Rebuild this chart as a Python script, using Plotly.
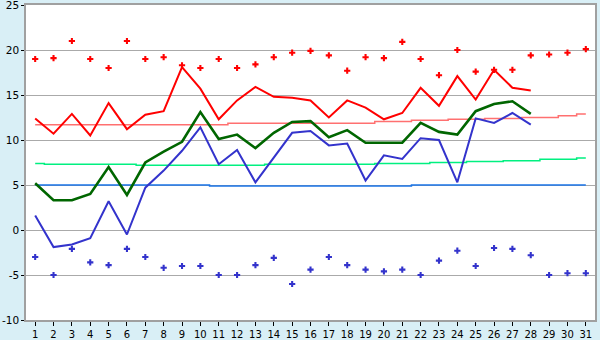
import plotly.graph_objects as go

days = list(range(1, 32))
days28 = list(range(1, 29))

rec_max = [19, 19.1, 21, 19, 18, 21, 19, 19.2, 18.3, 18, 19, 18, 18.4, 19.2, 19.7, 19.9,
           19.4, 17.7, 19.2, 19.1, 20.9, 19, 17.2, 20, 17.6, 17.8, 17.8, 19.4, 19.5, 19.7, 20.1]
rec_min = [-3, -5, -2.1, -3.6, -3.9, -2.1, -3, -4.2, -4, -4, -5, -5, -3.9, -3.1, -6, -4.4,
           -3, -3.9, -4.4, -4.6, -4.4, -5, -3.4, -2.3, -4, -2, -2.1, -2.8, -5, -4.8, -4.8]

t_max = [12.4, 10.7, 12.9, 10.5, 14.1, 11.2, 12.8, 13.2, 18.1, 15.7, 12.3, 14.4, 15.9, 14.8,
         14.7, 14.4, 12.5, 14.4, 13.6, 12.3, 13.0, 15.8, 13.8, 17.1, 14.5, 17.8, 15.8, 15.5]
t_avg = [5.2, 3.3, 3.3, 4.0, 7.0, 3.9, 7.5, 8.7, 9.8, 13.1, 10.1, 10.6, 9.1, 10.8, 12.0, 12.1,
         10.3, 11.1, 9.7, 9.7, 9.7, 11.9, 10.9, 10.6, 13.2, 14.0, 14.3, 12.9]
t_min = [1.6, -1.9, -1.6, -0.9, 3.2, -0.5, 4.7, 6.6, 8.8, 11.4, 7.3, 8.9, 5.3, 8.1, 10.8, 11.0,
         9.4, 9.6, 5.5, 8.3, 7.9, 10.2, 10.0, 5.3, 12.4, 11.9, 13.0, 11.7]

norm_max = [11.7] * 11 + [11.85] * 8 + [12.05] * 2 + [12.2] * 2 + [12.3] * 2 + [12.4] * 2 + [12.5] * 2 + [12.7, 12.9]
norm_avg = [7.4] + [7.3] * 5 + [7.2] * 7 + [7.3] * 6 + [7.4] * 3 + [7.5] * 2 + [7.6] * 2 + [7.7] * 2 + [7.85] * 2 + [8.0]
norm_min = [5.0] * 10 + [4.9] * 11 + [5.0] * 10

y_ticks = [-10, -5, 0, 5, 10, 15, 20, 25]
y_labels = ["-10", "-5", "0", "5", "10", "15", "20", "25"]

fig = go.Figure()

fig.add_trace(go.Scatter(x=days, y=norm_max, mode="lines", line=dict(color="#ff7070", width=1.5, shape="hvh")))
fig.add_trace(go.Scatter(x=days, y=norm_avg, mode="lines", line=dict(color="#00f080", width=1.5, shape="hvh")))
fig.add_trace(go.Scatter(x=days, y=norm_min, mode="lines", line=dict(color="#1a74e8", width=1.5, shape="hvh")))

fig.add_trace(go.Scatter(x=days28, y=t_max, mode="lines", line=dict(color="#ff0000", width=2)))
fig.add_trace(go.Scatter(x=days28, y=t_avg, mode="lines", line=dict(color="#006600", width=2.6)))
fig.add_trace(go.Scatter(x=days28, y=t_min, mode="lines", line=dict(color="#3333cc", width=2)))

fig.add_trace(go.Scatter(x=days, y=rec_max, mode="markers",
                         marker=dict(symbol="cross", size=5.2, color="#ff0000", line=dict(width=0))))
fig.add_trace(go.Scatter(x=days, y=rec_min, mode="markers",
                         marker=dict(symbol="cross", size=5.2, color="#3333cc", line=dict(width=0))))

fig.update_layout(
    width=600, height=340,
    margin=dict(l=26, r=5, t=5, b=20, autoexpand=False),
    paper_bgcolor="#d9eff6",
    plot_bgcolor="#ffffff",
    showlegend=False,
    font=dict(family="DejaVu Sans", size=10, color="#000000"),
)
fig.update_xaxes(
    range=[0.5, 31.5], tickmode="array", tickvals=days, ticktext=[str(d) for d in days],
    showgrid=False, zeroline=False, ticks="outside", ticklen=4, tickcolor="#000000",
    showline=True, linecolor="#a0a0a0", linewidth=1.5, mirror=True, fixedrange=True,
    tickfont=dict(size=10), automargin=False, ticklabeloverflow="allow",
)
fig.update_yaxes(
    range=[-10, 25], tickmode="array", tickvals=y_ticks, ticktext=y_labels,
    showgrid=True, gridcolor="#aaaaaa", gridwidth=1, zeroline=False,
    ticks="outside", ticklen=3, tickcolor="#000000",
    showline=True, linecolor="#a0a0a0", linewidth=1.5, mirror=True, fixedrange=True,
    tickfont=dict(size=10.5), automargin=False, ticklabeloverflow="allow",
)

fig.write_html("out.html")
